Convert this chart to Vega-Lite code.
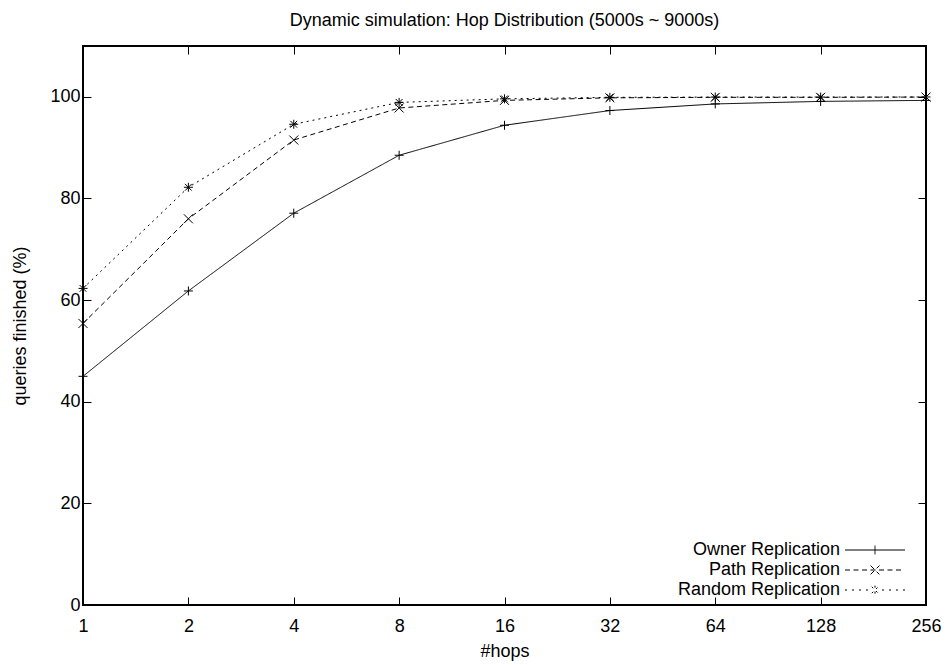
{
  "$schema": "https://vega.github.io/schema/vega-lite/v6.json",
  "width": 843,
  "height": 559,
  "autosize": {"type": "none"},
  "padding": {"left": 83, "top": 46, "right": 20, "bottom": 60},
  "background": "white",
  "title": {
    "text": "Dynamic simulation: Hop Distribution (5000s ~ 9000s)",
    "font": "Liberation Sans",
    "fontSize": 18,
    "fontWeight": "normal",
    "color": "black",
    "anchor": "middle",
    "frame": "group",
    "baseline": "alphabetic",
    "offset": 2
  },
  "config": {
    "view": {"stroke": "black", "strokeWidth": 2},
    "axis": {
      "labelFont": "Liberation Sans",
      "labelFontSize": 18,
      "labelColor": "black",
      "titleFont": "Liberation Sans",
      "titleFontSize": 18,
      "titleFontWeight": "normal",
      "titleColor": "black",
      "tickColor": "black",
      "tickWidth": 1,
      "tickSize": -8,
      "domain": false,
      "grid": false,
      "labelFlush": false,
      "labelOverlap": false
    }
  },
  "data": {
    "values": [
      {"series": "Owner Replication", "hops": 1, "pct": 45.0},
      {"series": "Owner Replication", "hops": 2, "pct": 61.8},
      {"series": "Owner Replication", "hops": 4, "pct": 77.1},
      {"series": "Owner Replication", "hops": 8, "pct": 88.5},
      {"series": "Owner Replication", "hops": 16, "pct": 94.4},
      {"series": "Owner Replication", "hops": 32, "pct": 97.3},
      {"series": "Owner Replication", "hops": 64, "pct": 98.6},
      {"series": "Owner Replication", "hops": 128, "pct": 99.1},
      {"series": "Owner Replication", "hops": 256, "pct": 99.3},
      {"series": "Path Replication", "hops": 1, "pct": 55.4},
      {"series": "Path Replication", "hops": 2, "pct": 76.0},
      {"series": "Path Replication", "hops": 4, "pct": 91.5},
      {"series": "Path Replication", "hops": 8, "pct": 97.8},
      {"series": "Path Replication", "hops": 16, "pct": 99.3},
      {"series": "Path Replication", "hops": 32, "pct": 99.8},
      {"series": "Path Replication", "hops": 64, "pct": 99.9},
      {"series": "Path Replication", "hops": 128, "pct": 99.9},
      {"series": "Path Replication", "hops": 256, "pct": 99.95},
      {"series": "Random Replication", "hops": 1, "pct": 62.3},
      {"series": "Random Replication", "hops": 2, "pct": 82.2},
      {"series": "Random Replication", "hops": 4, "pct": 94.6},
      {"series": "Random Replication", "hops": 8, "pct": 98.9},
      {"series": "Random Replication", "hops": 16, "pct": 99.6},
      {"series": "Random Replication", "hops": 32, "pct": 99.9},
      {"series": "Random Replication", "hops": 64, "pct": 99.95},
      {"series": "Random Replication", "hops": 128, "pct": 99.95},
      {"series": "Random Replication", "hops": 256, "pct": 99.97}
    ]
  },
  "layer": [
    {
      "mark": {"type": "line", "color": "black", "strokeWidth": 1},
      "encoding": {
        "x": {
          "field": "hops",
          "type": "quantitative",
          "scale": {"type": "log", "base": 2, "domain": [1, 256], "nice": false},
          "axis": {
            "orient": "bottom",
            "values": [1, 2, 4, 8, 16, 32, 64, 128, 256],
            "format": "d",
            "labelPadding": 20,
            "title": "#hops",
            "titleY": 46,
            "titleBaseline": "middle"
          }
        },
        "y": {
          "field": "pct",
          "type": "quantitative",
          "scale": {"domain": [0, 110], "nice": false, "zero": true},
          "axis": {
            "orient": "left",
            "values": [0, 20, 40, 60, 80, 100],
            "labelPadding": 11,
            "title": "queries finished (%)",
            "titleX": -63,
            "titleY": 279.5,
            "titleAngle": -90,
            "titleAlign": "center",
            "titleBaseline": "middle"
          }
        },
        "strokeDash": {
          "field": "series",
          "type": "nominal",
          "scale": {
            "domain": ["Owner Replication", "Path Replication", "Random Replication"],
            "range": [[1, 0], [5, 3.5], [2, 4]]
          },
          "legend": {
            "title": null,
            "orient": "none",
            "legendX": 783,
            "legendY": 495,
            "padding": 0,
            "labelFont": "Liberation Sans",
            "labelFontSize": 18,
            "labelColor": "black",
            "labelLimit": 0,
            "labelAlign": "right",
            "labelOffset": -44,
            "symbolSize": 64,
            "symbolStrokeColor": "black",
            "symbolStrokeWidth": 1,
            "rowPadding": 2,
            "encode": {
              "symbols": {
                "update": {
                  "strokeDash": {"value": [1, 0]},
                  "fill": {"value": "transparent"},
                  "shape": {
                    "signal": "datum.value == 'Owner Replication' ? 'M-7.5,0L7.5,0M0,-1.1L0,1.1' : datum.value == 'Path Replication' ? 'M-7.5,0L-6.25,0M-5.375,0L-4.125,0M-3.25,0L-2,0M-1.125,0L0.125,0M1,0L2.25,0M3.125,0L4.375,0M5.25,0L6.5,0M-1.1,-1.1L1.1,1.1M-1.1,1.1L1.1,-1.1' : 'M-7.5,0L-7,0M-5.75,0L-5.25,0M-4,0L-3.5,0M-2.25,0L-1.75,0M1.75,0L2.25,0M3.5,0L4,0M5.25,0L5.75,0M7,0L7.5,0M0,-1.1L0,1.1M-0.8,-0.8L0.8,0.8M-0.8,0.8L0.8,-0.8'"
                  }
                }
              }
            }
          }
        }
      }
    },
    {
      "transform": [{"filter": "datum.series == 'Owner Replication'"}],
      "mark": {"type": "point", "shape": "M-1,0L1,0M0,-1L0,1", "filled": false, "stroke": "black", "strokeWidth": 1, "size": 81, "opacity": 1},
      "encoding": {
        "x": {
          "field": "hops",
          "type": "quantitative",
          "scale": {"type": "log", "base": 2, "domain": [1, 256], "nice": false},
          "axis": {
            "orient": "top",
            "values": [1, 2, 4, 8, 16, 32, 64, 128, 256],
            "labels": false,
            "title": null
          }
        },
        "y": {
          "field": "pct",
          "type": "quantitative",
          "scale": {"domain": [0, 110], "nice": false},
          "axis": {
            "orient": "right",
            "values": [0, 20, 40, 60, 80, 100],
            "labels": false,
            "title": null
          }
        }
      }
    },
    {
      "transform": [{"filter": "datum.series == 'Path Replication'"}],
      "mark": {"type": "point", "shape": "M-1,-1L1,1M-1,1L1,-1", "filled": false, "stroke": "black", "strokeWidth": 1, "size": 81, "opacity": 1},
      "encoding": {
        "x": {"field": "hops", "type": "quantitative", "axis": null},
        "y": {"field": "pct", "type": "quantitative", "axis": null}
      }
    },
    {
      "transform": [{"filter": "datum.series == 'Random Replication'"}],
      "mark": {"type": "point", "shape": "M-1,0L1,0M0,-1L0,1M-0.75,-0.75L0.75,0.75M-0.75,0.75L0.75,-0.75", "filled": false, "stroke": "black", "strokeWidth": 1, "size": 81, "opacity": 1},
      "encoding": {
        "x": {"field": "hops", "type": "quantitative", "axis": null},
        "y": {"field": "pct", "type": "quantitative", "axis": null}
      }
    }
  ],
  "resolve": {"axis": {"x": "independent", "y": "independent"}}
}
